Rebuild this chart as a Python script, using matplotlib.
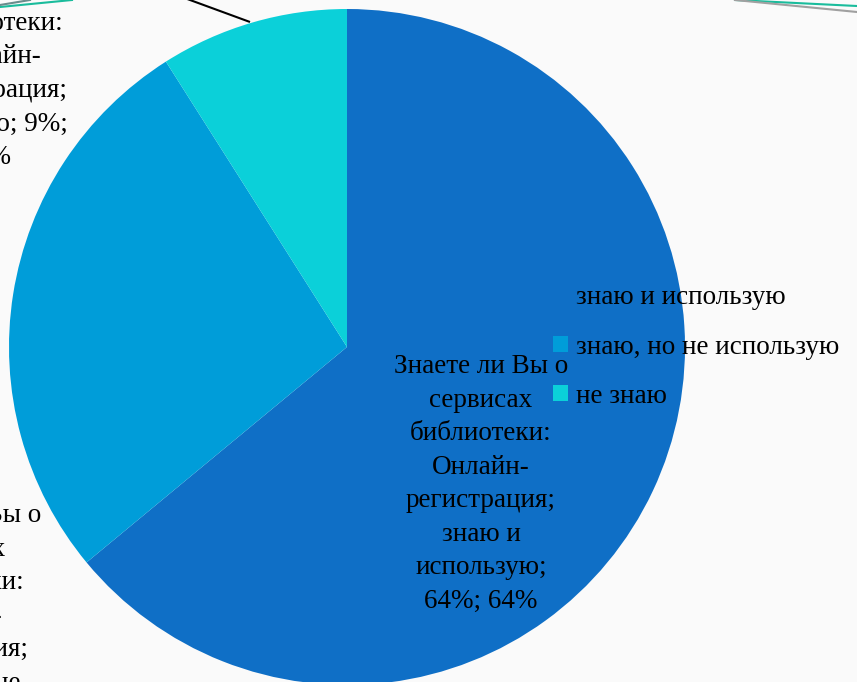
import matplotlib
matplotlib.use("Agg")
import matplotlib.pyplot as plt

categories = ["знаю и использую", "знаю, но не использую", "не знаю"]
values = [64, 27, 9]
colors = ["#0F6FC6", "#009DD9", "#0BD0D9"]
question = "Знаете ли Вы о\nсервисах\nбиблиотеки:\nОнлайн-\nрегистрация;"
label_texts = [
    question + "\nзнаю и\nиспользую;\n64%; 64%",
    question + "\nзнаю, но не\nиспользую;\n27%; 27%",
    question + "\nне знаю; 9%;\n9%",
]

W, H = 857, 682
CX, CY, R = 347, 347, 338

def px2d(px, py):
    return ((px - CX) / R, (CY - py) / R)

plt.rcParams['font.family'] = ['Liberation Serif', 'DejaVu Serif']

fig = plt.figure(figsize=(W / 100, H / 100), dpi=100)
fig.patch.set_facecolor("#FAFAFA")
ax = fig.add_axes([0, 0, 1, 1])
ax.set_facecolor("none")

wedges, _ = ax.pie(values, colors=colors, startangle=90, counterclock=False,
                   radius=1, center=(0, 0), wedgeprops=dict(linewidth=0))
x0, y0 = px2d(0, H)
x1, y1 = px2d(W, 0)
ax.set_xlim(x0, x1)
ax.set_ylim(y0, y1)
ax.set_aspect("auto")
ax.axis("off")

fs = 19.5
lab_pos = [(481, 484), (-46, 633), (-7, 57)]
for txt, (px, py) in zip(label_texts, lab_pos):
    x, y = px2d(px, py)
    ax.text(x, y, txt, ha="center", va="center", multialignment="center",
            fontsize=fs, linespacing=1.45, color="black", clip_on=False)

# leader line for the small slice label
lx0, ly0 = px2d(250, 22)
lx1, ly1 = px2d(130, -22)
ax.plot([lx0, lx1], [ly0, ly1], color="black", lw=1.5, solid_capstyle="butt")

# decorative slide lines
fig.add_artist(plt.Line2D([0, 72 / W], [1 - 7 / H, 1.0], color="#1ABC9C", lw=1.5))
fig.add_artist(plt.Line2D([0, 30 / W], [1 - 5 / H, 1.0], color="#6A8C8C", lw=1.5))
fig.add_artist(plt.Line2D([735 / W, 1.0], [1.0, 1 - 6 / H], color="#1ABC9C", lw=1.5))
fig.add_artist(plt.Line2D([735 / W, 1.0], [1.0, 1 - 12 / H], color="#A0A0A0", lw=1.5))

leg = fig.legend(wedges, categories, loc="center left",
                 bbox_to_anchor=(553 / W, 1 - 347 / H), frameon=False,
                 fontsize=fs, handlelength=0.55, handleheight=0.55,
                 handletextpad=0.3, labelspacing=0.9, borderpad=0,
                 borderaxespad=0)

fig.savefig("out.png", dpi=100, facecolor=fig.get_facecolor())
